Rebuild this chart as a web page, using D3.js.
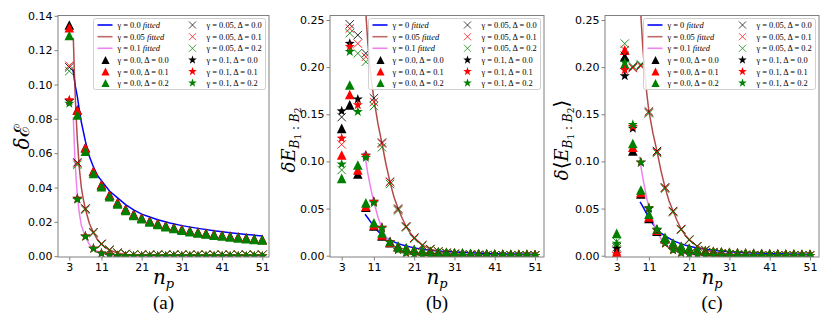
<!DOCTYPE html>
<html>
<head>
<meta charset="utf-8">
<script src="https://cdn.jsdelivr.net/npm/d3@7"></script>
<style>
body { margin: 0; background: #fff; }
</style>
</head>
<body>
<div id="chart"></div>
<script>
// number of sites
var nVals = [3,5,7,9,11,13,15,17,19,21,23,25,27,29,31,33,35,37,39,41,43,45,47,49,51];
var xTicks = [3,11,21,31,41,51];

// ---- panel (a): delta E ----
var aTriD0 = [0.1346,0.0852,0.0633,0.0495,0.0417,0.0357,0.0313,0.0274,0.0245,0.0224,0.0206,0.0191,0.0178,0.0167,0.0157,0.0148,0.0140,0.0134,0.0128,0.0123,0.0117,0.0112,0.0107,0.0102,0.0098];
var aTriD1 = [0.1330,0.0850,0.0631,0.0494,0.0416,0.0356,0.0312,0.0273,0.0244,0.0223,0.0205,0.0190,0.0177,0.0166,0.0156,0.0147,0.0139,0.0133,0.0127,0.0122,0.0116,0.0111,0.0106,0.0101,0.0097];
var aTriD2 = [0.1285,0.0822,0.0612,0.0482,0.0405,0.0347,0.0304,0.0267,0.0238,0.0218,0.0200,0.0185,0.0172,0.0161,0.0151,0.0143,0.0135,0.0129,0.0123,0.0118,0.0112,0.0107,0.0102,0.0098,0.0094];
var aXD0 = [0.1100,0.0546,0.0278,0.0140,0.0072,0.0037,0.0020,0.0013,0.0010,0.0009,0.0008,0.0008,0.0008,0.0008,0.0008,0.0008,0.0008,0.0008,0.0008,0.0008,0.0008,0.0008,0.0008,0.0008,0.0008];
var aXD1 = [0.1110,0.0540,0.0275,0.0138,0.0071,0.0036,0.0020,0.0013,0.0010,0.0009,0.0008,0.0008,0.0008,0.0008,0.0008,0.0008,0.0008,0.0008,0.0008,0.0008,0.0008,0.0008,0.0008,0.0008,0.0008];
var aXD2 = [0.1078,0.0532,0.0270,0.0135,0.0069,0.0035,0.0019,0.0012,0.0009,0.0008,0.0008,0.0008,0.0008,0.0008,0.0008,0.0008,0.0008,0.0008,0.0008,0.0008,0.0008,0.0008,0.0008,0.0008,0.0008];
var aStD0 = [0.0905,0.0336,0.0117,0.0045,0.0017,0.0007,0.0003,0.0001,0,0,0,0,0,0,0,0,0,0,0,0,0,0,0,0,0];
var aStD1 = [0.0910,0.0334,0.0116,0.0045,0.0017,0.0007,0.0003,0.0001,0,0,0,0,0,0,0,0,0,0,0,0,0,0,0,0,0];
var aStD2 = [0.0890,0.0330,0.0114,0.0044,0.0016,0.0006,0.0003,0.0001,0,0,0,0,0,0,0,0,0,0,0,0,0,0,0,0,0];
var aFitG0n = [3.9,4.2,4.5,5,5.5,6,7,8,9,10,11,13,15,17,19,21,23,25,28,31,35,39,43,47,51];
var aFitG0 = [0.109,0.104,0.099,0.093,0.085,0.078,0.067,0.058,0.052,0.047,0.044,0.038,0.034,0.030,0.027,0.0245,0.0228,0.0212,0.0193,0.0178,0.0162,0.0148,0.0137,0.0127,0.0118];
var aFitG05n = [4,4.25,4.5,4.75,5,5.5,6,6.5,7,8,9,10,11,12,13,15,17,19,21,25,31,41,51];
var aFitG05 = [0.127,0.108,0.092,0.079,0.068,0.051,0.040,0.033,0.0275,0.019,0.0137,0.0097,0.0070,0.0050,0.0036,0.0019,0.0010,0.0005,0.0003,0.0001,0,0,0];
var aFitG1n = [4,4.2,4.4,4.7,5,5.5,6,6.5,7,8,9,10,11,13,15,18,22,30,40,51];
var aFitG1 = [0.081,0.068,0.057,0.045,0.035,0.025,0.018,0.0145,0.0115,0.0068,0.0042,0.0026,0.0016,0.0006,0.0002,0.0001,0,0,0,0];

// ---- panel (b): delta E_{B1:B2} ----
var bTriD0 = [0.1350,0.1600,0.0866,0.0515,0.0315,0.0210,0.0138,0.0096,0.0078,0.0062,0.0052,0.0045,0.0039,0.0034,0.0030,0.0027,0.0024,0.0022,0.0020,0.0018,0.0017,0.0016,0.0015,0.0014,0.0013];
var bTriD1 = [0.1068,0.1710,0.0909,0.0525,0.0325,0.0220,0.0143,0.0099,0.0080,0.0064,0.0053,0.0046,0.0040,0.0035,0.0031,0.0027,0.0024,0.0022,0.0020,0.0018,0.0017,0.0016,0.0015,0.0014,0.0013];
var bTriD2 = [0.0820,0.1810,0.0962,0.0560,0.0350,0.0240,0.0150,0.0103,0.0083,0.0066,0.0055,0.0047,0.0041,0.0036,0.0031,0.0028,0.0025,0.0022,0.0020,0.0018,0.0017,0.0016,0.0015,0.0014,0.0013];
var bXD0 = [0.1470,0.2454,0.2340,0.2146,0.1670,0.1200,0.0785,0.0500,0.0310,0.0190,0.0110,0.0070,0.0045,0.0030,0.0020,0.0014,0.0010,0.0008,0.0006,0.0005,0.0004,0.0004,0.0003,0.0003,0.0003];
var bXD1 = [0.1180,0.2410,0.2250,0.2110,0.1630,0.1190,0.0780,0.0490,0.0310,0.0190,0.0110,0.0070,0.0045,0.0030,0.0020,0.0014,0.0010,0.0008,0.0006,0.0005,0.0004,0.0004,0.0003,0.0003,0.0003];
var bXD2 = [0.0909,0.2360,0.2146,0.2057,0.1587,0.1150,0.0760,0.0480,0.0300,0.0180,0.0105,0.0067,0.0043,0.0029,0.0019,0.0013,0.0010,0.0008,0.0006,0.0005,0.0004,0.0004,0.0003,0.0003,0.0003];
var bStD0 = [0.1534,0.2250,0.1660,0.1065,0.0575,0.0300,0.0145,0.0065,0.0030,0.0015,0.0008,0.0004,0.0002,0.0001,0.0001,0,0,0,0,0,0,0,0,0,0];
var bStD1 = [0.1245,0.2217,0.1600,0.1060,0.0573,0.0297,0.0143,0.0064,0.0030,0.0015,0.0008,0.0004,0.0002,0.0001,0.0001,0,0,0,0,0,0,0,0,0,0];
var bStD2 = [0.0970,0.2164,0.1527,0.1040,0.0560,0.0290,0.0140,0.0062,0.0029,0.0014,0.0007,0.0004,0.0002,0.0001,0.0001,0,0,0,0,0,0,0,0,0,0];
var bFitG0n = [8.8,9.5,10,11,12,13,14,15,17,19,21,23,25,28,31,35,41,46,51];
var bFitG0 = [0.044,0.040,0.037,0.031,0.026,0.022,0.019,0.0165,0.0128,0.0102,0.0083,0.0069,0.0058,0.0046,0.0038,0.0030,0.0022,0.0018,0.0015];
var bFitG05n = [8.6,9,9.5,10,10.5,11,12,13,14,15,16,17,18,19,20,21,23,25,27,29,31,35,41,51];
var bFitG05 = [0.290,0.257,0.225,0.200,0.182,0.166,0.140,0.119,0.097,0.078,0.062,0.050,0.040,0.031,0.024,0.019,0.0115,0.0070,0.0045,0.0030,0.0020,0.0010,0.0004,0.0001];
var bFitG1n = [8.6,9,9.5,10,10.5,11,12,13,14,15,17,19,21,23,26,31,41,51];
var bFitG1 = [0.110,0.100,0.087,0.076,0.066,0.057,0.041,0.029,0.020,0.014,0.0068,0.0034,0.0017,0.0009,0.0003,0.0001,0,0];

// ---- panel (c): delta <E_{B1:B2}> ----
var cTriD0 = [0.0005,0.2110,0.1110,0.0654,0.0396,0.0260,0.0180,0.0125,0.0095,0.0075,0.0062,0.0052,0.0045,0.0039,0.0034,0.0030,0.0027,0.0025,0.0023,0.0021,0.0019,0.0018,0.0017,0.0016,0.0015];
var cTriD1 = [0.0036,0.2180,0.1150,0.0670,0.0410,0.0270,0.0185,0.0130,0.0098,0.0077,0.0063,0.0053,0.0046,0.0040,0.0035,0.0031,0.0028,0.0025,0.0023,0.0021,0.0019,0.0018,0.0017,0.0016,0.0015];
var cTriD2 = [0.0237,0.2030,0.1190,0.0697,0.0439,0.0280,0.0195,0.0135,0.0101,0.0079,0.0065,0.0054,0.0047,0.0041,0.0036,0.0032,0.0028,0.0026,0.0024,0.0022,0.0020,0.0018,0.0017,0.0016,0.0015];
var cXD0 = [0.0090,0.2120,0.1998,0.2020,0.1530,0.1110,0.0725,0.0474,0.0283,0.0170,0.0100,0.0060,0.0038,0.0025,0.0016,0.0011,0.0008,0.0006,0.0005,0.0004,0.0003,0.0003,0.0003,0.0003,0.0003];
var cXD1 = [0.0050,0.2180,0.1990,0.2010,0.1520,0.1100,0.0720,0.0470,0.0280,0.0170,0.0100,0.0060,0.0038,0.0025,0.0016,0.0011,0.0008,0.0006,0.0005,0.0004,0.0003,0.0003,0.0003,0.0003,0.0003];
var cXD2 = [0.0149,0.2250,0.2010,0.2030,0.1510,0.1090,0.0710,0.0460,0.0275,0.0165,0.0097,0.0058,0.0037,0.0024,0.0016,0.0011,0.0008,0.0006,0.0005,0.0004,0.0003,0.0003,0.0003,0.0003,0.0003];
var cStD0 = [0.0078,0.1906,0.1350,0.0990,0.0500,0.0270,0.0130,0.0060,0.0030,0.0015,0.0008,0.0004,0.0002,0.0001,0.0001,0,0,0,0,0,0,0,0,0,0];
var cStD1 = [0.0020,0.1970,0.1370,0.0990,0.0510,0.0275,0.0130,0.0060,0.0030,0.0015,0.0008,0.0004,0.0002,0.0001,0.0001,0,0,0,0,0,0,0,0,0,0];
var cStD2 = [0.0130,0.2050,0.1390,0.0990,0.0505,0.0280,0.0135,0.0062,0.0031,0.0015,0.0008,0.0004,0.0002,0.0001,0.0001,0,0,0,0,0,0,0,0,0,0];
var cFitG0n = [8.8,9.5,10,11,12,13,14,15,17,19,21,23,25,28,31,35,41,46,51];
var cFitG0 = [0.057,0.052,0.048,0.040,0.0335,0.028,0.024,0.021,0.016,0.0125,0.0100,0.0082,0.0068,0.0053,0.0042,0.0032,0.0023,0.0018,0.0015];
var cFitG05n = [8.6,9,9.5,10,10.5,11,12,13,14,15,16,17,18,19,20,21,23,25,27,29,31,35,41,51];
var cFitG05 = [0.290,0.255,0.220,0.192,0.171,0.153,0.130,0.111,0.090,0.0725,0.058,0.0474,0.037,0.0283,0.022,0.017,0.010,0.006,0.0038,0.0025,0.0016,0.0007,0.0003,0.0001];
var cFitG1n = [8.6,9,9.5,10,10.5,11,12,13,14,15,17,19,21,23,26,31,41,51];
var cFitG1 = [0.105,0.095,0.082,0.071,0.060,0.051,0.036,0.026,0.018,0.012,0.006,0.003,0.0015,0.0007,0.0002,0.0001,0,0];

var deltaColors = ["#000000", "#ff0000", "#008000"];
var fitColors = ["#0000ff", "#a52a2a", "#ee82ee"];

var W = 830, H = 327;
var svg = d3.select("#chart").append("svg")
    .attr("width", W)
    .attr("height", H)
    .style("font-family", "DejaVu Sans, sans-serif");

// marker shapes
var triPath = "M0,-4.8L4.8,4.8L-4.8,4.8Z";
var crossPath = "M-4.2,-4.2L4.2,4.2M-4.2,4.2L4.2,-4.2";
function starPath(R) {
    var pts = [];
    for (var i = 0; i < 10; i++) {
        var a = -Math.PI / 2 + i * Math.PI / 5;
        var rr = (i % 2) ? R * 0.4 : R;
        pts.push([(rr * Math.cos(a)).toFixed(2), (rr * Math.sin(a)).toFixed(2)]);
    }
    return "M" + pts.join("L") + "Z";
}
var stPath = starPath(5.3);

function addMarker(sel, kind, color) {
    if (kind === "tri")
        sel.append("path").attr("d", triPath).attr("fill", color);
    else if (kind === "x")
        sel.append("path").attr("d", crossPath).attr("fill", "none").attr("stroke", color).attr("stroke-width", 1).attr("stroke-opacity", 0.85);
    else
        sel.append("path").attr("d", stPath).attr("fill", color);
}

var panels = [
    { left: 58, right: 269, x3: 69.3, x51: 262.3, y0: 256.2, yMax: 0.14, yMaxPx: 15.8,
      yTicks: [0, 0.02, 0.04, 0.06, 0.08, 0.10, 0.12, 0.14],
      tri: [aTriD0, aTriD1, aTriD2], x: [aXD0, aXD1, aXD2], st: [aStD0, aStD1, aStD2],
      fits: [[aFitG0n, aFitG0], [aFitG05n, aFitG05], [aFitG1n, aFitG1]],
      g0: "0.0", cap: "(a)", ylab: "a" },
    { left: 330, right: 544, x3: 341.7, x51: 535, y0: 255.7, yMax: 0.25, yMaxPx: 20,
      yTicks: [0, 0.05, 0.10, 0.15, 0.20, 0.25],
      tri: [bTriD0, bTriD1, bTriD2], x: [bXD0, bXD1, bXD2], st: [bStD0, bStD1, bStD2],
      fits: [[bFitG0n, bFitG0], [bFitG05n, bFitG05], [bFitG1n, bFitG1]],
      g0: "0", cap: "(b)", ylab: "b" },
    { left: 605, right: 819, x3: 616.7, x51: 810, y0: 255.7, yMax: 0.25, yMaxPx: 20,
      yTicks: [0, 0.05, 0.10, 0.15, 0.20, 0.25],
      tri: [cTriD0, cTriD1, cTriD2], x: [cXD0, cXD1, cXD2], st: [cStD0, cStD1, cStD2],
      fits: [[cFitG0n, cFitG0], [cFitG05n, cFitG05], [cFitG1n, cFitG1]],
      g0: "0", cap: "(c)", ylab: "c" }
];

var plotTop = 15.5, plotBottom = 257;

panels.forEach(function(p, k) {
    var x = d3.scaleLinear().domain([3, 51]).range([p.x3, p.x51]);
    var y = d3.scaleLinear().domain([0, p.yMax]).range([p.y0, p.yMaxPx]);

    svg.append("clipPath").attr("id", "clip" + k)
        .append("rect")
        .attr("x", p.left).attr("y", plotTop)
        .attr("width", p.right - p.left).attr("height", plotBottom - plotTop);

    var plot = svg.append("g").attr("clip-path", "url(#clip" + k + ")");

    // fitted curves
    var line = d3.line().x(function(d) { return x(d[0]); }).y(function(d) { return y(d[1]); });
    p.fits.forEach(function(f, i) {
        var pts = f[0].map(function(n, j) { return [n, f[1][j]]; });
        plot.append("path")
            .attr("d", line(pts))
            .attr("fill", "none")
            .attr("stroke", fitColors[i])
            .attr("stroke-width", 1.5)
            .attr("stroke-opacity", i === 1 ? 0.85 : 1);
    });

    // markers: triangles (gamma=0), crosses (gamma=0.05), stars (gamma=0.1)
    [["tri", p.tri], ["x", p.x], ["st", p.st]].forEach(function(s) {
        s[1].forEach(function(vals, di) {
            plot.append("g").selectAll("g")
                .data(vals.map(function(v, j) { return [nVals[j], v]; }))
                .enter().append("g")
                .attr("transform", function(d) { return "translate(" + x(d[0]) + "," + y(d[1]) + ")"; })
                .each(function() { addMarker(d3.select(this), s[0], deltaColors[di]); });
        });
    });

    // frame
    svg.append("rect")
        .attr("x", p.left).attr("y", plotTop)
        .attr("width", p.right - p.left).attr("height", plotBottom - plotTop)
        .attr("fill", "none").attr("stroke", "#808080").attr("stroke-width", 1);

    // axes
    var yAx = svg.append("g").attr("transform", "translate(" + p.left + ",0)")
        .call(d3.axisLeft(y).tickValues(p.yTicks).tickFormat(d3.format(".2f")).tickSize(3.5).tickPadding(2));
    var xAx = svg.append("g").attr("transform", "translate(0," + plotBottom + ")")
        .call(d3.axisBottom(x).tickValues(xTicks).tickSize(3.5).tickPadding(3));
    [yAx, xAx].forEach(function(a) {
        a.select(".domain").remove();
        a.selectAll("line").attr("stroke", "#808080");
        a.selectAll("text").attr("fill", "#000").style("font-size", "11px").style("font-family", "DejaVu Sans, sans-serif");
    });

    var cx = (p.left + p.right) / 2;

    // x label n_p
    var xl = svg.append("text").attr("x", cx).attr("y", 284)
        .attr("text-anchor", "middle")
        .style("font-family", "DejaVu Serif, serif").style("font-style", "italic");
    xl.append("tspan").style("font-size", "20px").text("n");
    xl.append("tspan").style("font-size", "13px").attr("dy", 4).text("p");

    // caption
    svg.append("text").attr("x", cx).attr("y", 309)
        .attr("text-anchor", "middle")
        .style("font-family", "Liberation Serif, serif").style("font-size", "19px")
        .text(p.cap);

    // y label
    var yl = svg.append("text")
        .attr("text-anchor", "middle")
        .style("font-family", "DejaVu Serif, serif");
    if (p.ylab === "a") {
        yl.attr("transform", "translate(29,137) rotate(-90)");
        yl.append("tspan").style("font-size", "20px").style("font-style", "italic").text("δ");
        yl.append("tspan").style("font-size", "21px").text("ℰ");
    } else {
        var lx = p.ylab === "b" ? p.left - 35 : p.left - 37;
        yl.attr("transform", "translate(" + lx + ",140) rotate(-90)");
        yl.append("tspan").style("font-size", "18px").style("font-style", "italic").text("δ");
        if (p.ylab === "c") yl.append("tspan").style("font-size", "20px").text("⟨");
        yl.append("tspan").style("font-size", "18px").style("font-style", "italic").text("E");
        yl.append("tspan").style("font-size", "12px").style("font-style", "italic").attr("dy", 4).text("B");
        yl.append("tspan").style("font-size", "9px").attr("dy", 2).text("1");
        yl.append("tspan").style("font-size", "12px").attr("dy", -2).text(" : ");
        yl.append("tspan").style("font-size", "12px").style("font-style", "italic").text("B");
        yl.append("tspan").style("font-size", "9px").attr("dy", 2).text("2");
        if (p.ylab === "c") yl.append("tspan").style("font-size", "20px").attr("dy", -6).text("⟩");
    }

    // legend
    var bl = p.right - 175.5;
    var leg = svg.append("g");
    leg.append("rect")
        .attr("x", bl).attr("y", 18.5).attr("width", 172).attr("height", 71)
        .attr("rx", 2).attr("fill", "#fff").attr("fill-opacity", 0.85)
        .attr("stroke", "#d0d0d0").attr("stroke-width", 1);
    var rows = [25, 36.7, 48.3, 60, 71.5, 83];
    var fitLabels = [p.g0, "0.05", "0.1"];
    var dLabels = ["0.0", "0.1", "0.2"];
    function legText(tx, ty) {
        return leg.append("text").attr("x", tx).attr("y", ty + 3)
            .style("font-family", "Liberation Serif, serif").style("font-size", "8.4px");
    }
    fitLabels.forEach(function(g, i) {
        leg.append("line")
            .attr("x1", bl + 4).attr("x2", bl + 19)
            .attr("y1", rows[i]).attr("y2", rows[i])
            .attr("stroke", fitColors[i]).attr("stroke-width", 1.6)
            .attr("stroke-opacity", i === 1 ? 0.7 : 1);
        var t = legText(bl + 24, rows[i]);
        t.append("tspan").text("γ = " + g + " ");
        t.append("tspan").style("font-style", "italic").text("fitted");
    });
    dLabels.forEach(function(dl, i) {
        addMarker(leg.append("g").attr("transform", "translate(" + (bl + 12) + "," + rows[i + 3] + ") scale(0.85)"), "tri", deltaColors[i]);
        legText(bl + 24, rows[i + 3]).text("γ = 0.0, Δ = " + dl);
        addMarker(leg.append("g").attr("transform", "translate(" + (bl + 99) + "," + rows[i] + ") scale(0.85)"), "x", deltaColors[i]);
        legText(bl + 113, rows[i]).text("γ = 0.05, Δ = " + dl);
        addMarker(leg.append("g").attr("transform", "translate(" + (bl + 99) + "," + rows[i + 3] + ") scale(0.85)"), "st", deltaColors[i]);
        legText(bl + 113, rows[i + 3]).text("γ = 0.1, Δ = " + dl);
    });
});
</script>
</body>
</html>
